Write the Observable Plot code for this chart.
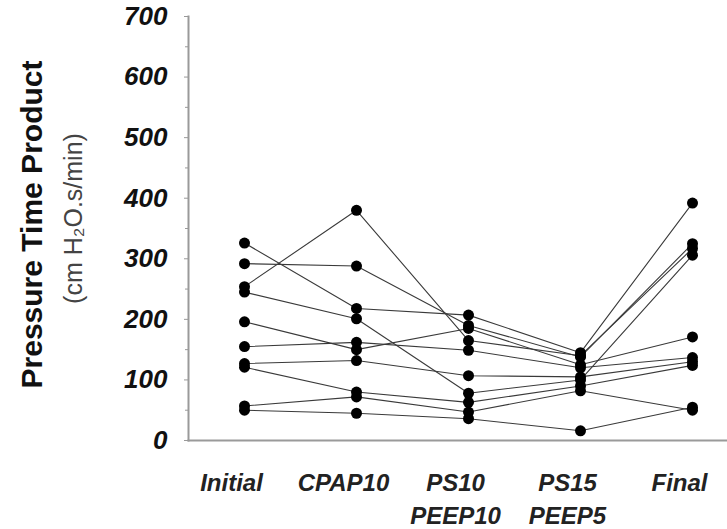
<!DOCTYPE html>
<html>
<head>
<meta charset="utf-8">
<script src="https://cdn.jsdelivr.net/npm/d3@7"></script>
<script src="https://cdn.jsdelivr.net/npm/@observablehq/plot@0.6"></script>
<style>
  html, body { margin: 0; padding: 0; background: #fff; }
  svg { display: block; }
</style>
</head>
<body>
<div id="chart"></div>
<script>
// Categories (x axis)
const categories = ["Initial", "CPAP10", "PS10\nPEEP10", "PS15\nPEEP5", "Final"];

// Pressure time product per patient (cm H2O.s/min), one array per condition
const initial    = [326, 292, 254, 245, 196, 155, 127, 121, 57, 50];
const cpap10     = [218, 288, 380, 201, 150, 162, 132, 80, 72, 45];
const ps10peep10 = [207, 190, 165, 78, 185, 149, 107, 63, 47, 36];
const ps15peep5  = [145, 138, 140, 100, 125, 120, 105, 90, 82, 16];
const finalVals  = [392, 325, 317, 306, 171, 137, 130, 124, 50, 55];

const yTicks = [0, 100, 200, 300, 400, 500, 600, 700];
const yMinorTicks = [50, 150, 250, 350, 450, 550, 650];

const yTitle = "Pressure Time Product";
const ySubtitle = "(cm H\u2082O.s/min)";

const series = [initial, cpap10, ps10peep10, ps15peep5, finalVals];
const data = [];
initial.forEach((_, p) => {
  series.forEach((vals, c) => {
    data.push({patient: p, condition: categories[c], value: vals[p]});
  });
});

const font = "'Liberation Sans', Arial, Helvetica, sans-serif";

const chart = Plot.plot({
  width: 727,
  height: 529,
  marginLeft: 188,
  marginRight: 0,
  marginTop: 16,
  marginBottom: 89,
  style: {fontFamily: font, background: "#fff", color: "#111"},
  x: {type: "point", domain: categories, range: [243, 693], padding: 0, label: null},
  y: {domain: [0, 700], label: null},
  marks: [
    Plot.axisY({ticks: yMinorTicks, tickSize: 3, text: null, stroke: "#999", label: null}),
    Plot.axisY({ticks: yTicks, tickSize: 4, tickPadding: 17, stroke: "#999",
      fontSize: 26, fontWeight: "bold", fontStyle: "italic", fill: "#111", label: null}),
    Plot.axisX({tickSize: 0, tickPadding: 27, fontSize: 24, fontWeight: "bold", fontStyle: "italic",
      lineHeight: 1.38, lineAnchor: "top", dx: -13, fill: "#222", label: null}),
    Plot.frame({anchor: "left", stroke: "#9a9a9a", strokeWidth: 2}),
    Plot.frame({anchor: "bottom", stroke: "#9a9a9a", strokeWidth: 2}),
    Plot.line(data, {x: "condition", y: "value", z: "patient", stroke: "#3a3a3a", strokeWidth: 1.1}),
    Plot.dot(data, {x: "condition", y: "value", r: 5.5, fill: "#000", stroke: "none"}),
    Plot.text([yTitle], {frameAnchor: "left", textAnchor: "middle", dx: -156, dy: -4, rotate: -90,
      fontSize: 30, fontWeight: "bold", fill: "#111", text: d => d}),
    Plot.text([ySubtitle], {frameAnchor: "left", textAnchor: "middle", dx: -115, dy: -10, rotate: -90,
      fontSize: 25, fill: "#444", text: d => d})
  ]
});

document.getElementById("chart").appendChild(chart);
</script>
</body>
</html>
